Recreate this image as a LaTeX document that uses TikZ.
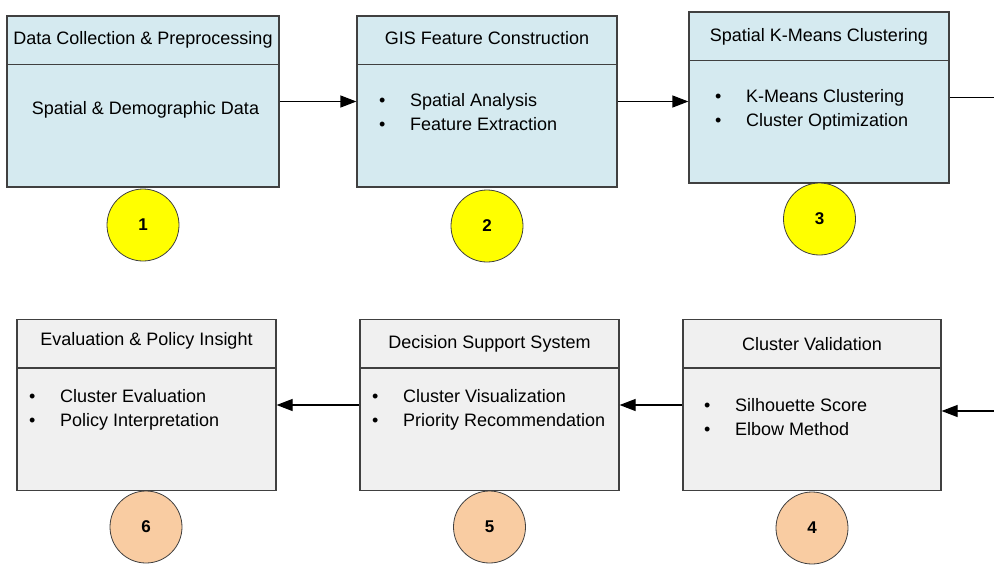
\documentclass[tikz,border=0pt]{standalone}
\usepackage{fontspec}
\setmainfont{Liberation Sans}
\usetikzlibrary{arrows.meta}

\definecolor{stepblue}{HTML}{D5EAF0}
\definecolor{stepgray}{HTML}{F0F0F0}
\definecolor{markyellow}{HTML}{FFFF00}
\definecolor{markpeach}{HTML}{F9CCA2}
\definecolor{boxline}{HTML}{404040}

\begin{document}
\begin{tikzpicture}
        [x=1pt,y=-1pt,
        stepbox/.style={draw=boxline, line width=1.2pt, minimum width=260pt,
            minimum height=171pt, inner sep=0pt},
        rule/.style={draw=boxline, line width=1.2pt},
        title/.style={font=\fontsize{18}{22}\selectfont, inner sep=0pt},
        body/.style={font=\fontsize{18}{24}\selectfont, align=left, inner sep=0pt, anchor=west},
        stepmark/.style={circle, draw=boxline, line width=0.8pt, minimum size=72pt,
            inner sep=0pt, font=\fontsize{17}{19}\selectfont\bfseries},
        line/.style={line width=1.2pt, -{Triangle[length=16pt,width=12pt]}}]
        \useasboundingbox (0,0) rectangle (994,566);
        \newcommand{\bul}{\makebox[31pt][l]{\textbullet}}
        % top row
        \node[stepbox, fill=stepblue] (b3) at (819,97.5) {};
        \node[stepbox, fill=stepblue] (b2) at (487,101.5) {};
        \node[stepbox, fill=stepblue, minimum width=272pt] (b1) at (143,101.5) {}
            edge[line] (b2);
        \draw[line] (b2.east) -- (b2.east -| b3.west);
        \coordinate (out3) at (1000,97.5);
        \draw[line width=1.2pt] (b3.east) -- (out3);
        % bottom row
        \node[stepbox, fill=stepgray, minimum width=259pt] (b6) at (146.5,405) {};
        \node[stepbox, fill=stepgray, minimum width=259pt] (b5) at (489.5,405) {}
            edge[line] (b6);
        \node[stepbox, fill=stepgray, minimum width=258pt] (b4) at (812,405) {}
            edge[line] (b5);
        \coordinate (in4) at (1000,411);
        \draw[line] (in4) -- (in4 -| b4.east);
        % dividers
        \foreach \b in {b1,b2,b3,b4,b5,b6}
            \draw[rule] ([yshift=-49pt]\b.north west) -- ([yshift=-49pt]\b.north east);
        % titles
        \node[title] (t1) at ([yshift=-24pt]b1.north) {Data Collection \& Preprocessing};
        \node[title] (t2) at ([yshift=-23pt]b2.north) {GIS Feature Construction};
        \node[title] (t3) at ([yshift=-25pt]b3.north) {Spatial K-Means Clustering};
        \node[title] (t4) at ([yshift=-25pt]b4.north) {Cluster Validation};
        \node[title] (t5) at ([yshift=-25pt]b5.north) {Decision Support System};
        \node[title] (t6) at ([yshift=-22pt]b6.north) {Evaluation \& Policy Insight};
        % contents
        \node[body, anchor=center] (l1) at (145.5,110) {Spatial \& Demographic Data};
        \node[body] (l2) at (379,112) {\bul Spatial Analysis\\\bul Feature Extraction};
        \node[body] (l3) at (715,110) {\bul K-Means Clustering\\\bul Cluster Optimization};
        \node[body] (l4) at (704,417) {\bul Silhouette Score\\\bul Elbow Method};
        \node[body] (l5) at (372,410) {\bul Cluster Visualization\\\bul Priority Recommendation};
        \node[body] (l6) at (29,409.5) {\bul Cluster Evaluation\\\bul Policy Interpretation};
        % step numbers
        \node[stepmark, fill=markyellow] (m1) at (143,225) {1};
        \node[stepmark, fill=markyellow] (m2) at (487,226) {2};
        \node[stepmark, fill=markyellow] (m3) at (819.5,219) {3};
        \node[stepmark, fill=markpeach] (m4) at (812,528) {4};
        \node[stepmark, fill=markpeach] (m5) at (489.5,527) {5};
        \node[stepmark, fill=markpeach] (m6) at (146,527) {6};
    \end{tikzpicture}
\end{document}
